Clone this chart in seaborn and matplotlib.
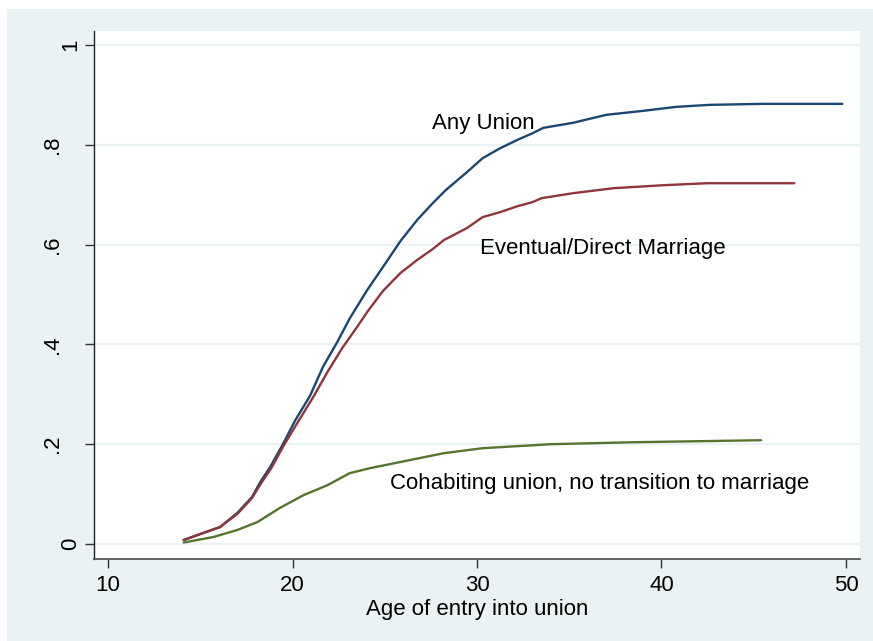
import matplotlib
matplotlib.use("Agg")
import matplotlib.pyplot as plt
from matplotlib.patches import Rectangle
from matplotlib.transforms import ScaledTranslation
import seaborn as sns
import pandas as pd

# ---- data ----
any_age = [14.1, 15.15, 16.07, 17.0, 17.8, 18.25, 18.8, 19.45, 20.15, 20.95, 21.65, 22.4,
           23.1, 24.05, 24.9, 25.85, 26.75, 27.6, 28.3, 29.45, 30.3, 31.25, 32.2, 33.0,
           33.6, 35.2, 37.0, 39.0, 40.8, 42.6, 45.5, 49.8]
any_val = [0.008, 0.022, 0.034, 0.062, 0.094, 0.124, 0.155, 0.198, 0.248, 0.297, 0.355, 0.403,
           0.452, 0.509, 0.555, 0.607, 0.649, 0.683, 0.709, 0.745, 0.773, 0.793, 0.810, 0.823,
           0.834, 0.844, 0.860, 0.868, 0.876, 0.880, 0.882, 0.882]

mar_age = [14.1, 15.15, 16.07, 17.0, 17.8, 18.3, 18.85, 19.5, 20.3, 21.1, 21.9, 22.7, 23.5,
           24.05, 24.9, 25.85, 26.75, 27.6, 28.2, 29.45, 30.3, 31.25, 32.2, 33.0, 33.5,
           35.2, 37.4, 40.1, 42.5, 47.2]
mar_val = [0.008, 0.022, 0.034, 0.060, 0.092, 0.122, 0.152, 0.196, 0.245, 0.293, 0.345, 0.393,
           0.435, 0.465, 0.507, 0.543, 0.569, 0.591, 0.609, 0.633, 0.655, 0.665, 0.677, 0.685,
           0.693, 0.703, 0.713, 0.719, 0.723, 0.723]

coh_age = [14.1, 15.7, 17.0, 18.1, 19.3, 20.6, 21.9, 23.1, 24.2, 25.8, 28.2, 30.3, 34.0, 38.5, 45.4]
coh_val = [0.003, 0.014, 0.028, 0.044, 0.072, 0.098, 0.118, 0.142, 0.152, 0.164, 0.182, 0.192,
           0.200, 0.204, 0.208]

series_names = ["Any Union", "Eventual/Direct Marriage",
                "Cohabiting union, no transition to marriage"]
label_x = [27.56, 30.16, 25.28]
label_y = [0.832, 0.581, 0.110]

xticks = [10, 20, 30, 40, 50]
yticks = [0, 0.2, 0.4, 0.6, 0.8, 1.0]
ytick_labels = ["0", ".2", ".4", ".6", ".8", "1"]
xlabel = "Age of entry into union"

colors = ["#1A476F", "#90353B", "#55752F"]
bg = "#EAF2F3"

df = pd.concat([
    pd.DataFrame({"age": any_age, "val": any_val, "series": series_names[0]}),
    pd.DataFrame({"age": mar_age, "val": mar_val, "series": series_names[1]}),
    pd.DataFrame({"age": coh_age, "val": coh_val, "series": series_names[2]}),
], ignore_index=True)

sns.set_theme(style="white")
plt.rcParams["font.family"] = ["Liberation Sans", "DejaVu Sans"]

fig = plt.figure(figsize=(8.73, 6.41), dpi=100, facecolor="white")
fig.patches.append(Rectangle((7 / 873, 0), 1 - 7 / 873, (641 - 9) / 641,
                             transform=fig.transFigure, facecolor=bg,
                             edgecolor="none", zorder=-10))
ax = fig.add_axes([94 / 873, 1 - 559 / 641, (860 - 94) / 873, (559 - 31) / 641])
ax.set_facecolor("white")

sns.lineplot(data=df, x="age", y="val", hue="series", palette=colors,
             estimator=None, legend=False, linewidth=1.7, ax=ax)

ax.set_xlim(9.24, 50.76)
ax.set_ylim(-0.030, 1.028)

ax.set_xticks(xticks)
ax.set_yticks(yticks, labels=ytick_labels)
ax.yaxis.grid(True, color=bg, linewidth=1.6)
ax.xaxis.grid(False)
ax.set_axisbelow(True)

for s in ["top", "right"]:
    ax.spines[s].set_visible(False)
ax.spines["left"].set_color("#222222")
ax.spines["left"].set_linewidth(1.0)
ax.spines["bottom"].set_color("#555555")
ax.spines["bottom"].set_linewidth(1.3)

fs = 16
ax.tick_params(axis="both", which="major", direction="out", length=6.5, width=1.0,
               color="#333333", labelsize=fs, labelcolor="black",
               left=True, bottom=True)
ax.tick_params(axis="x", pad=5)
ax.tick_params(axis="y", pad=2.5)
for lab in ax.get_yticklabels():
    lab.set_rotation(90)
    lab.set_va("center")
    if lab.get_text().startswith("."):
        lab.set_transform(lab.get_transform() +
                          ScaledTranslation(-19 / 100, 0, fig.dpi_scale_trans))

ax.set_xlabel(xlabel, fontsize=fs, color="black", labelpad=2)
ax.set_ylabel("")

for name, x, y in zip(series_names, label_x, label_y):
    ax.text(x, y, name, fontsize=fs, color="black", ha="left", va="baseline")

fig.savefig("out.png", dpi=100, facecolor=fig.get_facecolor())
